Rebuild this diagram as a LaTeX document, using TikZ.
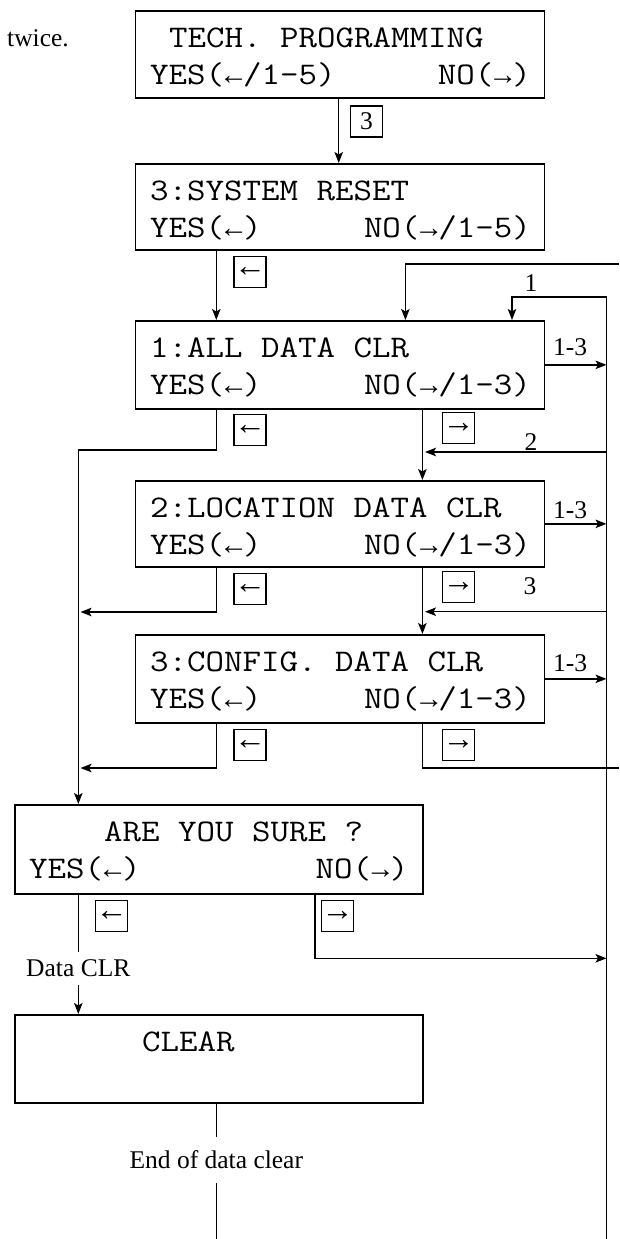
\documentclass[tikz,border=0pt]{standalone}
\usepackage{fontspec}
\setmainfont{Liberation Serif}
\newfontfamily\lcdfont[FakeStretch=1.14]{Latin Modern Mono}
\usetikzlibrary{arrows.meta}
\newcommand{\keyleft}{{\fontsize{32}{32}\selectfont ←}}
\newcommand{\keyright}{{\fontsize{32}{32}\selectfont →}}
\newcommand{\txtleft}{\makebox[18.85pt]{\rmfamily\fontsize{29}{29}\selectfont ←}}
\newcommand{\txtright}{\makebox[18.85pt]{\rmfamily\fontsize{29}{29}\selectfont →}}
\begin{document}
\begin{tikzpicture}[x=1pt,y=-1pt,
  lcd/.style={draw, line width=1.7pt, inner sep=0, anchor=north west},
  txt/.style={font=\lcdfont\fontsize{31.5}{36}\selectfont, inner sep=0},
  ser/.style={font=\fontsize{25.5}{30}\selectfont, inner sep=0},
  key/.style={draw, line width=1.3pt, minimum width=32pt, minimum height=31pt, inner sep=0, font=\fontsize{25.5}{30}\selectfont},
  wire/.style={line width=1.4pt},
  arr/.style={wire, -{Stealth[length=11pt,width=8.5pt,inset=2.5pt]}}]
\useasboundingbox (0,0) rectangle (619,1239);

% boxes
\node[lcd, minimum width=409pt, minimum height=87pt] (tech) at (134.5,10) {};
\node[lcd, minimum width=409pt, minimum height=86pt] (sys) at (134.5,163) {};
\node[lcd, minimum width=409pt, minimum height=88pt] (all) at (134.5,320) {};
\node[lcd, minimum width=409pt, minimum height=86pt] (loc) at (134.5,480) {};
\node[lcd, minimum width=409pt, minimum height=88pt] (conf) at (134.5,634) {};
\node[lcd, minimum width=408.4pt, minimum height=89pt] (are) at (14,804) {};
\node[lcd, minimum width=408.4pt, minimum height=88pt] (clear) at (14,1014) {};

% box texts
\node[txt, anchor=base west] (techA) at (169,47.5) {TECH. PROGRAMMING};
\node[txt, anchor=base west] (techB) at (150,84.5) {YES(\txtleft/1-5)};
\node[txt, anchor=base east] (techC) at (531,84.5) {NO(\txtright)};
\node[txt, anchor=base west] (sysA) at (150,200.5) {3:SYSTEM RESET};
\node[txt, anchor=base west] (sysB) at (150,237.5) {YES(\txtleft)};
\node[txt, anchor=base east] (sysC) at (531,237.5) {NO(\txtright/1-5)};
\node[txt, anchor=base west] (allA) at (150,357.5) {1:ALL DATA CLR};
\node[txt, anchor=base west] (allB) at (150,394.5) {YES(\txtleft)};
\node[txt, anchor=base east] (allC) at (531,394.5) {NO(\txtright/1-3)};
\node[txt, anchor=base west] (locA) at (150,517.5) {2:LOCATION DATA CLR};
\node[txt, anchor=base west] (locB) at (150,554.5) {YES(\txtleft)};
\node[txt, anchor=base east] (locC) at (531,554.5) {NO(\txtright/1-3)};
\node[txt, anchor=base west] (confA) at (150,671.5) {3:CONFIG. DATA CLR};
\node[txt, anchor=base west] (confB) at (150,708.5) {YES(\txtleft)};
\node[txt, anchor=base east] (confC) at (531,708.5) {NO(\txtright/1-3)};
\node[txt, anchor=base west] (areA) at (104,841.5) {ARE YOU SURE ?};
\node[txt, anchor=base west] (areB) at (29,878.5) {YES(\txtleft)};
\node[txt, anchor=base east] (areC) at (408.6,878.5) {NO(\txtright)};
\node[txt, anchor=base west] (clearA) at (142,1051.5) {CLEAR};

\node[ser, anchor=base east] (tw) at (69,46.5) {twice.};

% columns and free ends
\coordinate (xT) at (338.7,0);
\coordinate (xY) at (216.3,0);
\coordinate (xN) at (422.4,0);
\coordinate (xL) at (78.3,0);
\coordinate (xR) at (606.5,0);
\coordinate (xA) at (405.4,0);
\coordinate (xB) at (512,0);
\coordinate (xS) at (315,0);
\coordinate (topEnd) at (619,264);
\coordinate (busTop) at (606.5,297);
\coordinate (busBot) at (606.5,1239);
\coordinate (jA) at (78.3,450);
\coordinate (jB) at (80.5,612);
\coordinate (jC) at (80.5,768);
\coordinate (r2) at (606.5,452);
\coordinate (t2) at (425,452);
\coordinate (r3) at (606.5,611.7);
\coordinate (t3) at (425,611.7);
\coordinate (rEnd) at (619,768);
\coordinate (jD) at (606.5,958.3);
\coordinate (eBot) at (216.3,1239);

% connectors
\draw[arr] (tech.south -| xT) -- (sys.north -| xT);
\draw[arr] (sys.south -| xY) -- (all.north -| xY);
\draw[arr] (topEnd) -| (all.north -| xA);
\draw[arr] (busBot) -- (busTop) -| (all.north -| xB);
\draw[arr] (all.east) -- (all.east -| xR);
\draw[arr] (loc.east) -- (loc.east -| xR);
\draw[arr] (conf.east) -- (conf.east -| xR);
\draw[arr] (all.south -| xY) |- (jA) -- (are.north -| xL);
\draw[arr] (loc.south -| xY) |- (jB);
\draw[arr] (conf.south -| xY) |- (jC);
\draw[arr] (all.south -| xN) -- (loc.north -| xN);
\draw[arr] (loc.south -| xN) -- (conf.north -| xN);
\draw[arr] (r2) -- (t2);
\draw[arr] (r3) -- (t3);
\draw[wire] (conf.south -| xN) |- (rEnd);

\node[ser, minimum height=33pt] (dclr) at (78.3,968.5) {Data CLR};
\draw[wire] (are.south -| xL) -- (dclr.north);
\draw[arr] (dclr.south) -- (clear.north -| xL);
\draw[arr] (are.south -| xS) |- (jD);

\node[ser, minimum height=46pt] (eod) at (216.3,1160) {End of data clear};
\draw[wire] (clear.south -| xY) -- (eod.north);
\draw[wire] (eod.south) -- (eBot);

% labels
\node[ser] (l1) at (531,283) {1};
\node[ser] (l2) at (531,441.7) {2};
\node[ser] (l3) at (530,585.7) {3};
\node[ser] (lA) at (570,347) {1-3};
\node[ser] (lB) at (570,510) {1-3};
\node[ser] (lC) at (570,663) {1-3};

% key boxes
\node[key] (k3) at (366.5,121.5) {3};
\node[key] (kSY) at (250,271.7) {\keyleft};
\node[key] (kAY) at (250,429.8) {\keyleft};
\node[key] (kAN) at (458.5,427.8) {\keyright};
\node[key] (kLY) at (250,588.7) {\keyleft};
\node[key] (kLN) at (458.5,586.7) {\keyright};
\node[key] (kCY) at (250,744.7) {\keyleft};
\node[key] (kCN) at (458.5,744.7) {\keyright};
\node[key] (kRY) at (111.5,916) {\keyleft};
\node[key] (kRN) at (337.7,916) {\keyright};
\end{tikzpicture}
\end{document}
